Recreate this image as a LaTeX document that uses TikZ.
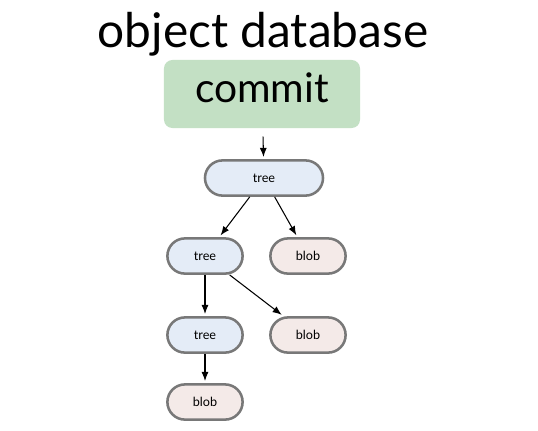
\documentclass[tikz,border=0pt]{standalone}
\usepackage{fontspec}
\setmainfont{Lato}
\usetikzlibrary{arrows.meta,positioning}
\definecolor{commitgreen}{HTML}{C3E0C4}
\definecolor{treeblue}{HTML}{E4ECF7}
\definecolor{blobpink}{HTML}{F4EAE8}
\definecolor{rimgray}{HTML}{787878}
\tikzset{
  commitbox/.style={
    fill=commitgreen,
    rounded corners=6pt,
    minimum width=4.9cm,
    minimum height=1.7cm,
    inner sep=0pt,
    text height=0.55cm,
    text depth=0.15cm,
    font=\fontsize{29}{32}\selectfont
  },
  obj/.style={
    draw=rimgray,
    line width=1.8pt,
    rounded corners=12.5pt,
    minimum width=1.88cm,
    minimum height=0.88cm,
    inner sep=0pt,
    font=\fontsize{9}{10}\selectfont
  },
  treeobj/.style={obj, fill=treeblue},
  blobobj/.style={obj, fill=blobpink},
  link/.style={-{Latex[length=6.5pt,width=5pt]}, line width=0.75pt, shorten >=1.5pt}
}

\begin{document}
\begin{tikzpicture}[x=0.025cm, y=-0.025cm]
  \useasboundingbox[fill=white] (0,0) rectangle (538,430);
  \node[anchor=base, font=\fontsize{34}{38}\selectfont] (title) at (263,47) {object database};
  \node[commitbox] (commit) at (262,94) {commit};
  \node[treeobj, minimum width=2.95cm] (t1) at (264,178) {tree};
  \node[treeobj] (t2) at (205,256) {tree};
  \node[blobobj] (b1) at (308,256) {blob};
  \node[treeobj] (t3) at (205,335) {tree};
  \node[blobobj] (b2) at (308,335) {blob};
  \node[blobobj] (b3) at (205,402) {blob};
  \draw[link, shorten <=6pt] (commit) -- (t1);
  \draw[link] (t1) -- (t2);
  \draw[link] (t1) -- (b1);
  \draw[link] (t2) -- (t3);
  \draw[link] (t2) -- (b2);
  \draw[link] (t3) -- (b3);
\end{tikzpicture}
\end{document}
